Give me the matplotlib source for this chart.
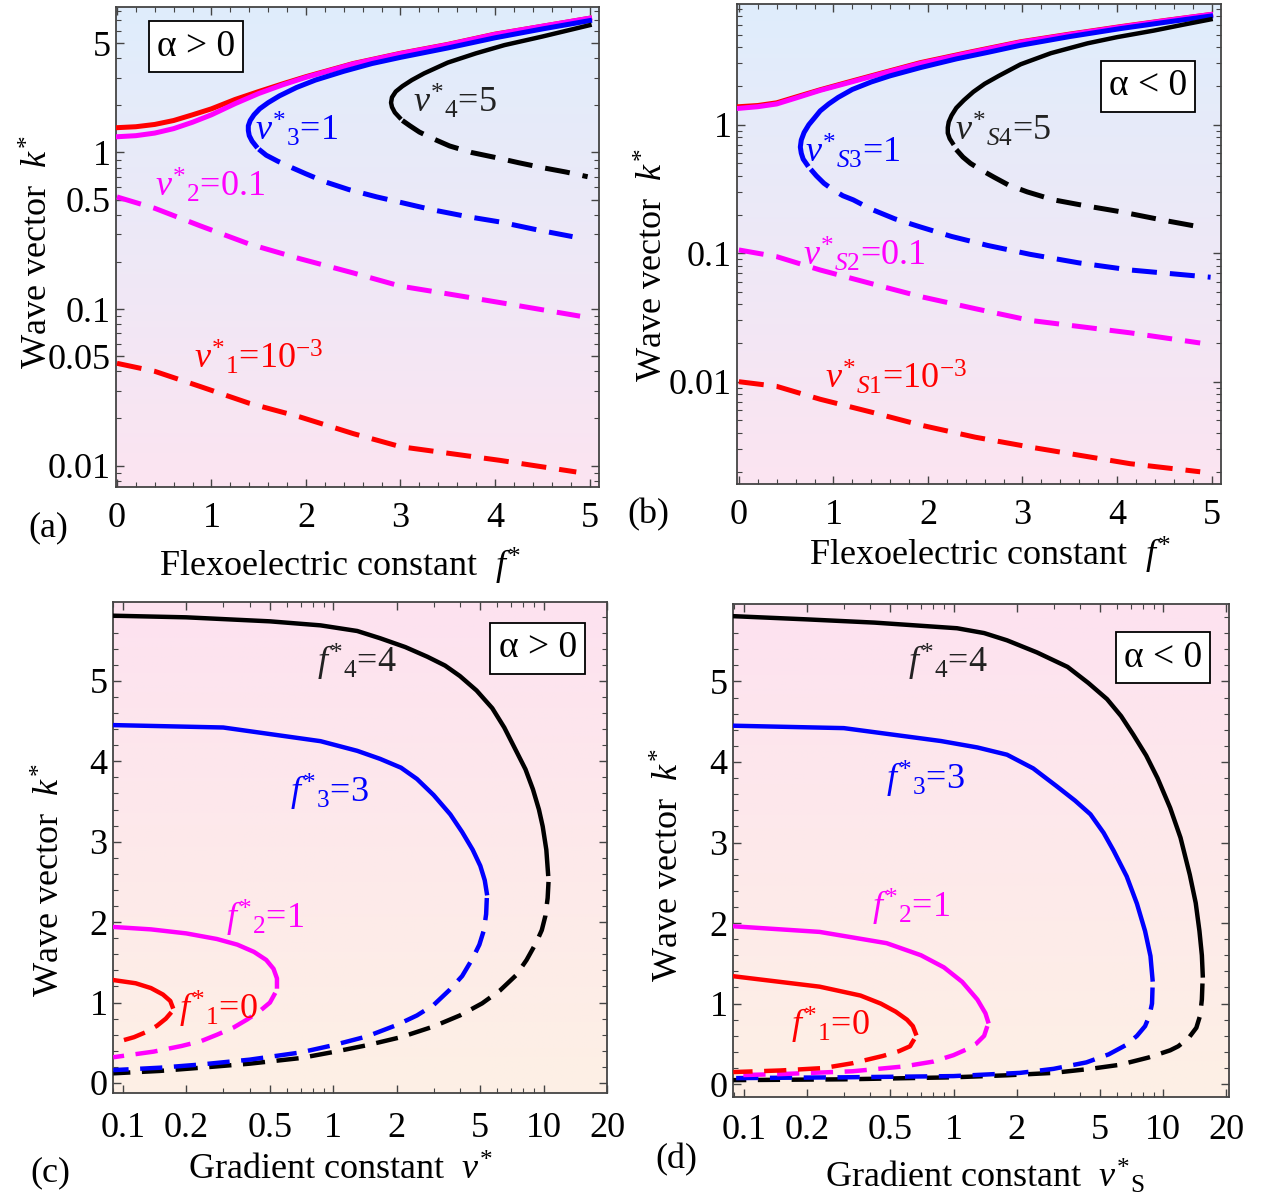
import numpy as np
import matplotlib
matplotlib.use("Agg")
import matplotlib.pyplot as plt
from matplotlib.ticker import FixedLocator, NullFormatter

plt.rcParams['font.family'] = ['Liberation Serif', 'DejaVu Serif']
plt.rcParams['mathtext.fontset'] = 'custom'
plt.rcParams['mathtext.rm'] = 'Liberation Serif'
plt.rcParams['mathtext.it'] = 'Liberation Serif:italic'
plt.rcParams['mathtext.bf'] = 'Liberation Serif:bold'

# ---------------- Panel (a): alpha > 0, k* vs f* ----------------
a_red_sol_f = [0, 0.2, 0.4, 0.6, 0.8, 1.0, 1.25, 1.5, 1.75, 2.0, 2.5, 3.0, 3.5, 4.0, 4.5, 5.0]
a_red_sol_k = [1.44, 1.46, 1.51, 1.6, 1.74, 1.9, 2.18, 2.45, 2.74, 3.05, 3.7, 4.3, 4.9, 5.7, 6.4, 7.2]
a_mag_sol_f = [0, 0.2, 0.4, 0.6, 0.8, 1.0, 1.25, 1.5, 1.75, 2.0, 2.5, 3.0, 3.5, 4.0, 4.5, 5.0]
a_mag_sol_k = [1.26, 1.28, 1.33, 1.42, 1.56, 1.74, 2.05, 2.38, 2.7, 3.02, 3.68, 4.28, 4.88, 5.68, 6.4, 7.2]
a_blu_sol_f = [1.47, 1.43, 1.40, 1.39, 1.39, 1.41, 1.45, 1.51, 1.6, 1.72, 1.9, 2.1, 2.4, 2.7, 3.0, 3.5, 4.0, 4.5, 5.0]
a_blu_sol_k = [1.10, 1.18, 1.28, 1.38, 1.48, 1.6, 1.74, 1.9, 2.08, 2.3, 2.6, 2.9, 3.3, 3.7, 4.05, 4.65, 5.4, 6.15, 6.95]
a_blk_sol_f = [2.99, 2.94, 2.91, 2.90, 2.91, 2.95, 3.02, 3.12, 3.25, 3.5, 3.8, 4.1, 4.5, 5.0]
a_blk_sol_k = [1.67, 1.80, 1.95, 2.08, 2.25, 2.45, 2.65, 2.9, 3.2, 3.75, 4.3, 4.85, 5.5, 6.5]
a_red_das_f = [0, 0.4, 0.88, 1.4, 1.93, 2.5, 3.0, 3.5, 4.05, 4.86]
a_red_das_k = [0.045, 0.040, 0.032, 0.025, 0.0205, 0.016, 0.0132, 0.012, 0.0108, 0.0091]
a_mag_das_f = [0, 0.4, 0.88, 1.4, 1.93, 2.5, 3.0, 3.5, 4.05, 4.9]
a_mag_das_k = [0.52, 0.44, 0.34, 0.26, 0.21, 0.17, 0.14, 0.125, 0.11, 0.09]
a_blu_das_f = [1.50, 1.58, 1.7, 1.85, 2.0, 2.2, 2.45, 2.75, 3.0, 3.34, 3.7, 4.05, 4.45, 4.82]
a_blu_das_k = [1.05, 0.96, 0.88, 0.80, 0.73, 0.65, 0.58, 0.52, 0.48, 0.43, 0.39, 0.36, 0.32, 0.29]
a_blk_das_f = [3.02, 3.1, 3.2, 3.35, 3.52, 3.75, 4.0, 4.25, 4.5, 4.75, 4.98]
a_blk_das_k = [1.60, 1.48, 1.35, 1.22, 1.10, 1.0, 0.93, 0.86, 0.8, 0.75, 0.70]

# ---------------- Panel (b): alpha < 0, k* vs f* ----------------
b_red_sol_f = [0, 0.2, 0.4, 0.6, 0.86, 1.2, 1.55, 1.92, 2.45, 2.98, 3.5, 4.04, 4.5, 4.99]
b_red_sol_k = [1.38, 1.41, 1.48, 1.64, 1.87, 2.19, 2.57, 3.04, 3.68, 4.42, 5.07, 5.8, 6.46, 7.2]
b_mag_sol_f = [0, 0.2, 0.4, 0.6, 0.86, 1.2, 1.55, 1.92, 2.45, 2.98, 3.5, 4.04, 4.5, 4.99]
b_mag_sol_k = [1.34, 1.38, 1.45, 1.61, 1.85, 2.16, 2.54, 3.0, 3.64, 4.38, 5.03, 5.76, 6.43, 7.2]
b_blu_sol_f = [0.72, 0.68, 0.66, 0.65, 0.66, 0.69, 0.74, 0.8, 0.86, 0.95, 1.05, 1.2, 1.4, 1.6,
               1.92, 2.3, 2.63, 2.98, 3.5, 4.04, 4.5, 4.99]
b_blu_sol_k = [0.49, 0.54, 0.60, 0.67, 0.76, 0.87, 1.0, 1.13, 1.28, 1.45, 1.63, 1.88, 2.15, 2.4,
               2.78, 3.25, 3.65, 4.15, 4.85, 5.6, 6.25, 7.0]
b_blk_sol_f = [2.26, 2.23, 2.21, 2.21, 2.22, 2.25, 2.3, 2.38, 2.48, 2.6, 2.75, 2.98, 3.3, 3.69, 4.0, 4.39, 4.7, 4.99]
b_blk_sol_k = [0.72, 0.78, 0.86, 0.95, 1.05, 1.18, 1.35, 1.55, 1.8, 2.08, 2.4, 2.95, 3.6, 4.3, 4.8, 5.4, 6.0, 6.6]
b_red_das_f = [0, 0.4, 0.86, 1.4, 1.92, 2.5, 3.08, 4.14, 4.88]
b_red_das_k = [0.010, 0.0092, 0.0073, 0.0058, 0.0046, 0.0037, 0.0031, 0.0023, 0.00199]
b_mag_das_f = [0, 0.4, 0.86, 1.4, 1.92, 2.5, 3.08, 4.14, 4.88]
b_mag_das_k = [0.106, 0.094, 0.074, 0.058, 0.046, 0.037, 0.030, 0.024, 0.020]
b_blu_das_f = [0.76, 0.82, 0.9, 1.0, 1.1, 1.21, 1.4, 1.65, 1.92, 2.25, 2.63, 3.08, 3.6, 4.14, 4.6, 4.99]
b_blu_das_k = [0.45, 0.40, 0.35, 0.31, 0.28, 0.26, 0.22, 0.185, 0.16, 0.135, 0.115, 0.098, 0.084, 0.074, 0.069, 0.065]
b_blk_das_f = [2.3, 2.37, 2.45, 2.55, 2.7, 2.85, 3.05, 3.33, 3.65, 4.04, 4.5, 4.92]
b_blk_das_k = [0.64, 0.56, 0.50, 0.45, 0.39, 0.34, 0.30, 0.26, 0.235, 0.21, 0.18, 0.158]

# ---------------- Panel (c): alpha > 0, k* vs v* ----------------
c_blk_sol_v = [0.09, 0.2, 0.5, 0.87, 1.3, 1.67, 2.2, 2.8, 3.4, 4.0, 4.8, 5.7, 6.5, 7.4, 8.2, 8.9, 9.5, 9.9, 10.3, 10.5]
c_blk_sol_k = [5.81, 5.79, 5.74, 5.69, 5.62, 5.53, 5.42, 5.3, 5.19, 5.06, 4.88, 4.66, 4.42, 4.13, 3.9, 3.65, 3.4, 3.19, 2.9, 2.6]
c_blk_das_v = [10.55, 10.45, 10.2, 9.8, 9.2, 8.3, 7.4, 6.2, 5.1, 4.0, 2.98, 2.1, 1.45, 1.0, 0.70, 0.4, 0.235, 0.15, 0.09]
c_blk_das_k = [2.5, 2.3, 2.08, 1.9, 1.74, 1.53, 1.34, 1.15, 0.99, 0.84, 0.70, 0.57, 0.47, 0.385, 0.31, 0.24, 0.19, 0.15, 0.12]
c_blu_sol_v = [0.09, 0.3, 0.87, 1.3, 1.67, 2.1, 2.5, 3.0, 3.6, 4.1, 4.6, 5.0, 5.25, 5.37]
c_blu_sol_k = [4.45, 4.42, 4.25, 4.13, 4.03, 3.92, 3.78, 3.58, 3.34, 3.12, 2.9, 2.7, 2.52, 2.36]
c_blu_das_v = [5.37, 5.33, 5.2, 4.95, 4.6, 4.1, 3.58, 3.0, 2.5, 2.0, 1.45, 1.0, 0.7, 0.4, 0.235, 0.15, 0.09]
c_blu_das_k = [2.3, 2.1, 1.9, 1.72, 1.55, 1.33, 1.16, 0.97, 0.84, 0.72, 0.58, 0.47, 0.38, 0.29, 0.23, 0.19, 0.16]
c_mag_sol_v = [0.09, 0.136, 0.2, 0.28, 0.35, 0.42, 0.48, 0.52, 0.54, 0.54]
c_mag_sol_k = [1.94, 1.91, 1.86, 1.79, 1.72, 1.63, 1.53, 1.42, 1.3, 1.2]
c_mag_das_v = [0.53, 0.5, 0.45, 0.39, 0.336, 0.28, 0.235, 0.19, 0.14, 0.09]
c_mag_das_k = [1.12, 1.0, 0.9, 0.79, 0.69, 0.6, 0.52, 0.46, 0.39, 0.32]
c_red_sol_v = [0.09, 0.115, 0.136, 0.155, 0.168, 0.172]
c_red_sol_k = [1.28, 1.24, 1.18, 1.1, 1.02, 0.95]
c_red_das_v = [0.17, 0.16, 0.145, 0.128, 0.113, 0.1, 0.09]
c_red_das_k = [0.88, 0.8, 0.71, 0.63, 0.57, 0.53, 0.5]

# ---------------- Panel (d): alpha < 0, k* vs v*_S ----------------
d_blk_sol_v = [0.089, 0.2, 0.42, 1.04, 1.4, 1.8, 2.5, 3.5, 4.4, 5.4, 6.3, 7.2, 8.3, 9.4, 10.8, 12.1, 13.4,
               14.3, 14.9, 15.3, 15.45]
d_blk_sol_k = [5.81, 5.77, 5.73, 5.66, 5.6, 5.51, 5.36, 5.18, 4.98, 4.78, 4.57, 4.34, 4.08, 3.8, 3.43, 3.06, 2.6,
               2.25, 1.9, 1.6, 1.35]
d_blk_das_v = [15.4, 15.3, 15.0, 14.4, 13.2, 11.8, 10.8, 8.5, 6.2, 4.5, 3.0, 1.8, 1.0, 0.3, 0.089]
d_blk_das_k = [1.25, 1.05, 0.85, 0.7, 0.57, 0.47, 0.42, 0.33, 0.24, 0.19, 0.14, 0.11, 0.085, 0.06, 0.05]
d_blu_sol_v = [0.089, 0.3, 0.87, 1.3, 1.8, 2.4, 3.1, 3.8, 4.5, 5.2, 5.8, 6.7, 7.5, 8.2, 8.7, 8.9]
d_blu_sol_k = [4.45, 4.42, 4.26, 4.18, 4.09, 3.92, 3.7, 3.52, 3.35, 3.12, 2.9, 2.58, 2.24, 1.9, 1.59, 1.3]
d_blu_das_v = [8.9, 8.85, 8.6, 8.2, 7.5, 6.7, 5.5, 4.3, 3.0, 2.08, 1.0, 0.3, 0.089]
d_blu_das_k = [1.2, 1.0, 0.85, 0.72, 0.6, 0.49, 0.37, 0.27, 0.19, 0.14, 0.10, 0.085, 0.075]
d_mag_sol_v = [0.089, 0.23, 0.48, 0.7, 0.9, 1.1, 1.3, 1.42, 1.46]
d_mag_sol_k = [1.96, 1.89, 1.75, 1.6, 1.45, 1.27, 1.05, 0.88, 0.78]
d_mag_das_v = [1.45, 1.4, 1.28, 1.15, 1.0, 0.8, 0.58, 0.33, 0.15, 0.089]
d_mag_das_k = [0.72, 0.6, 0.5, 0.43, 0.36, 0.28, 0.22, 0.16, 0.125, 0.11]
d_red_sol_v = [0.089, 0.23, 0.36, 0.45, 0.53, 0.6, 0.64, 0.66]
d_red_sol_k = [1.34, 1.21, 1.1, 1.0, 0.9, 0.8, 0.72, 0.63]
d_red_das_v = [0.65, 0.62, 0.55, 0.46, 0.33, 0.24, 0.15, 0.089]
d_red_das_k = [0.56, 0.47, 0.41, 0.35, 0.26, 0.2, 0.17, 0.15]

# tick labels
ab_x_ticks = [0, 1, 2, 3, 4, 5]
a_y_ticks = [0.01, 0.05, 0.1, 0.5, 1, 5]
a_y_labels = ['0.01', '0.05', '0.1', '0.5', '1', '5']
b_y_ticks = [0.01, 0.1, 1]
b_y_labels = ['0.01', '0.1', '1']
cd_x_ticks = [0.1, 0.2, 0.5, 1, 2, 5, 10, 20]
cd_x_labels = ['0.1', '0.2', '0.5', '1', '2', '5', '10', '20']
cd_y_ticks = [0, 1, 2, 3, 4, 5]

RED, MAG, BLU, BLK = '#ff0000', '#ff00ff', '#0000ff', '#000000'
FS = 26

fig = plt.figure(figsize=(12.65, 12.0), dpi=100)


def gradient(ax, top, bottom):
    t = np.linspace(0, 1, 256)[:, None]
    top = np.array(matplotlib.colors.to_rgb(top))
    bottom = np.array(matplotlib.colors.to_rgb(bottom))
    img = top[None, None, :] * (1 - t[:, :, None]) + bottom[None, None, :] * t[:, :, None]
    img = np.repeat(img, 2, axis=1)
    ax.imshow(img, extent=[0, 1, 0, 1], transform=ax.transAxes, aspect='auto',
              zorder=0, origin='upper', interpolation='bilinear')


def style(ax, xpad=11):
    for s in ax.spines.values():
        s.set_color('#444444')
        s.set_linewidth(1.3)
    ax.tick_params(which='both', direction='in', top=True, right=True,
                   colors='#444444', labelcolor='black', labelsize=FS)
    ax.tick_params(which='major', length=6, width=1.0)
    ax.tick_params(which='minor', length=3.5, width=0.8)
    ax.tick_params(axis='x', pad=xpad)
    ax.tick_params(axis='y', pad=4)


def box(ax, x, y, s):
    ax.text(x, y, s, transform=ax.transAxes, fontsize=FS + 1, ha='center', va='center',
            bbox=dict(boxstyle='square,pad=0.22', fc='white', ec='black', lw=1.3), zorder=6)


DASH = (0, (5.0, 2.6))


def lbl(ax, x, y, s, c):
    ax.text(x, y, s, color=c, fontsize=FS, ha='left', va='center', zorder=5)


# ---------- (a) ----------
axa = fig.add_axes([0.0917, 0.5942, 0.3818, 0.4000])
gradient(axa, '#dfedfc', '#fce4f1')
axa.set_yscale('log')
lw = 3.6
axa.plot(a_red_das_f, a_red_das_k, color=RED, lw=lw, ls=DASH, zorder=3)
axa.plot(a_mag_das_f, a_mag_das_k, color=MAG, lw=lw, ls=DASH, zorder=3)
axa.plot(a_blu_das_f, a_blu_das_k, color=BLU, lw=lw, ls=DASH, zorder=3)
axa.plot(a_blk_das_f, a_blk_das_k, color=BLK, lw=lw, ls=DASH, zorder=3)
axa.plot(a_red_sol_f, a_red_sol_k, color=RED, lw=lw, zorder=3)
axa.plot(a_mag_sol_f, a_mag_sol_k, color=MAG, lw=lw, zorder=3)
axa.plot(a_blu_sol_f, a_blu_sol_k, color=BLU, lw=lw, zorder=3)
axa.plot(a_blk_sol_f, a_blk_sol_k, color=BLK, lw=3.2, zorder=3)
axa.set_xlim(-0.01, 5.1)
axa.set_ylim(0.0073, 8.5)
axa.set_xticks(ab_x_ticks)
axa.xaxis.set_minor_locator(FixedLocator(np.arange(0, 5.1, 0.2)))
axa.set_yticks(a_y_ticks, a_y_labels)
axa.yaxis.set_minor_locator(FixedLocator([m * 10.0 ** e for e in (-3, -2, -1, 0) for m in range(2, 10)]))
axa.yaxis.set_minor_formatter(NullFormatter())
style(axa)
box(axa, 0.166, 0.917, 'α > 0')
lbl(axa, 3.13, 2.11, r'${v^{*}}_{4}$=5', '#222222')
lbl(axa, 1.46, 1.40, r'${v^{*}}_{3}$=1', BLU)
lbl(axa, 0.40, 0.61, r'${v^{*}}_{2}$=0.1', MAG)
lbl(axa, 0.82, 0.049, r'${v^{*}}_{1}$=10$^{-3}$', RED)
axa.set_xlabel(r'Flexoelectric constant  $f^{*}$', fontsize=FS)
axa.xaxis.set_label_coords(0.464, -0.122)
axa.set_ylabel(r'Wave vector  $k^{*}$', fontsize=FS)
axa.yaxis.set_label_coords(-0.125, 0.49)

# ---------- (b) ----------
axb = fig.add_axes([0.5826, 0.5967, 0.3826, 0.4000])
gradient(axb, '#dfedfc', '#fce4f1')
axb.set_yscale('log')
axb.plot(b_red_das_f, b_red_das_k, color=RED, lw=lw, ls=DASH, zorder=3)
axb.plot(b_mag_das_f, b_mag_das_k, color=MAG, lw=lw, ls=DASH, zorder=3)
axb.plot(b_blu_das_f, b_blu_das_k, color=BLU, lw=lw, ls=DASH, zorder=3)
axb.plot(b_blk_das_f, b_blk_das_k, color=BLK, lw=lw, ls=DASH, zorder=3)
axb.plot(b_red_sol_f, b_red_sol_k, color=RED, lw=lw, zorder=3)
axb.plot(b_mag_sol_f, b_mag_sol_k, color=MAG, lw=lw, zorder=3)
axb.plot(b_blu_sol_f, b_blu_sol_k, color=BLU, lw=lw, zorder=3)
axb.plot(b_blk_sol_f, b_blk_sol_k, color=BLK, lw=3.2, zorder=3)
axb.set_xlim(-0.02, 5.1)
axb.set_ylim(0.0016, 8.7)
axb.set_xticks(ab_x_ticks)
axb.xaxis.set_minor_locator(FixedLocator(np.arange(0, 5.1, 0.2)))
axb.set_yticks(b_y_ticks, b_y_labels)
axb.yaxis.set_minor_locator(FixedLocator([m * 10.0 ** e for e in (-3, -2, -1, 0) for m in range(2, 10)]))
axb.yaxis.set_minor_formatter(NullFormatter())
style(axb)
box(axb, 0.849, 0.829, 'α < 0')
lbl(axb, 2.29, 0.91, r'${v^{*}}_{S4}$=5', '#222222')
lbl(axb, 0.70, 0.62, r'${v^{*}}_{S3}$=1', BLU)
lbl(axb, 0.68, 0.097, r'${v^{*}}_{S2}$=0.1', MAG)
lbl(axb, 0.91, 0.0107, r'${v^{*}}_{S1}$=10$^{-3}$', RED)
axb.set_xlabel(r'Flexoelectric constant  $f^{*}$', fontsize=FS)
axb.xaxis.set_label_coords(0.523, -0.106)
axb.set_ylabel(r'Wave vector  $k^{*}$', fontsize=FS)
axb.yaxis.set_label_coords(-0.137, 0.456)

# ---------- (c) ----------
lw2 = 3.2
axc = fig.add_axes([0.0893, 0.0892, 0.3905, 0.4091])
gradient(axc, '#fde2f0', '#fdf0e5')
axc.set_xscale('log')
axc.plot(c_blk_das_v, c_blk_das_k, color=BLK, lw=lw2, ls=DASH, zorder=3)
axc.plot(c_blu_das_v, c_blu_das_k, color=BLU, lw=lw2, ls=DASH, zorder=3)
axc.plot(c_mag_das_v, c_mag_das_k, color=MAG, lw=lw2, ls=DASH, zorder=3)
axc.plot(c_red_das_v, c_red_das_k, color=RED, lw=lw2, ls=DASH, zorder=3)
axc.plot(c_blk_sol_v, c_blk_sol_k, color=BLK, lw=lw2, zorder=3)
axc.plot(c_blu_sol_v, c_blu_sol_k, color=BLU, lw=lw2, zorder=3)
axc.plot(c_mag_sol_v, c_mag_sol_k, color=MAG, lw=lw2, zorder=3)
axc.plot(c_red_sol_v, c_red_sol_k, color=RED, lw=lw2, zorder=3)
axc.set_xlim(0.0897, 20)
axc.set_ylim(-0.124, 5.98)
axc.set_xticks(cd_x_ticks, cd_x_labels)
axc.xaxis.set_minor_locator(FixedLocator([m * 10.0 ** e for e in (-2, -1, 0, 1) for m in range(2, 10)]))
axc.xaxis.set_minor_formatter(NullFormatter())
axc.set_yticks(cd_y_ticks)
axc.yaxis.set_minor_locator(FixedLocator(np.arange(0.0, 6.0, 0.2)))
style(axc, xpad=14)
box(axc, 0.86, 0.906, 'α > 0')
lbl(axc, 0.84, 5.23, r'${f^{*}}_{4}$=4', '#222222')
lbl(axc, 0.625, 3.61, r'${f^{*}}_{3}$=3', BLU)
lbl(axc, 0.308, 2.05, r'${f^{*}}_{2}$=1', MAG)
lbl(axc, 0.184, 0.91, r'${f^{*}}_{1}$=0', RED)
axc.set_xlabel(r'Gradient constant  $v^{*}$', fontsize=FS)
axc.xaxis.set_label_coords(0.46, -0.125)
axc.set_ylabel(r'Wave vector  $k^{*}$', fontsize=FS)
axc.yaxis.set_label_coords(-0.092, 0.434)

# ---------- (d) ----------
axd = fig.add_axes([0.5794, 0.0858, 0.3921, 0.4108])
gradient(axd, '#fde2f0', '#fdf0e5')
axd.set_xscale('log')
axd.plot(d_blk_das_v, d_blk_das_k, color=BLK, lw=lw2, ls=DASH, zorder=3)
axd.plot(d_blu_das_v, d_blu_das_k, color=BLU, lw=lw2, ls=DASH, zorder=3)
axd.plot(d_mag_das_v, d_mag_das_k, color=MAG, lw=lw2, ls=DASH, zorder=3)
axd.plot(d_red_das_v, d_red_das_k, color=RED, lw=lw2, ls=DASH, zorder=3)
axd.plot(d_blk_sol_v, d_blk_sol_k, color=BLK, lw=lw2, zorder=3)
axd.plot(d_blu_sol_v, d_blu_sol_k, color=BLU, lw=lw2, zorder=3)
axd.plot(d_mag_sol_v, d_mag_sol_k, color=MAG, lw=lw2, zorder=3)
axd.plot(d_red_sol_v, d_red_sol_k, color=RED, lw=lw2, zorder=3)
axd.set_xlim(0.0887, 20.6)
axd.set_ylim(-0.16, 5.96)
axd.set_xticks(cd_x_ticks, cd_x_labels)
axd.xaxis.set_minor_locator(FixedLocator([m * 10.0 ** e for e in (-2, -1, 0, 1) for m in range(2, 10)]))
axd.xaxis.set_minor_formatter(NullFormatter())
axd.set_yticks(cd_y_ticks)
axd.yaxis.set_minor_locator(FixedLocator(np.arange(0.0, 6.0, 0.2)))
style(axd, xpad=12)
box(axd, 0.867, 0.892, 'α < 0')
lbl(axd, 0.61, 5.23, r'${f^{*}}_{4}$=4', '#222222')
lbl(axd, 0.475, 3.78, r'${f^{*}}_{3}$=3', BLU)
lbl(axd, 0.41, 2.19, r'${f^{*}}_{2}$=1', MAG)
lbl(axd, 0.168, 0.73, r'${f^{*}}_{1}$=0', RED)
axd.set_xlabel(r'Gradient constant  ${v^{*}}_{\mathrm{S}}$', fontsize=FS)
axd.xaxis.set_label_coords(0.508, -0.122)
axd.set_ylabel(r'Wave vector  $k^{*}$', fontsize=FS)
axd.yaxis.set_label_coords(-0.093, 0.47)

# panel labels
for lab, (px, py) in zip(['(a)', '(b)', '(c)', '(d)'],
                         [(48, 528), (648, 515), (50, 1173), (676, 1160)]):
    fig.text(px / 1265, 1 - py / 1200, lab, fontsize=FS, ha='center', va='center')

fig.savefig('out.png', dpi=100)
